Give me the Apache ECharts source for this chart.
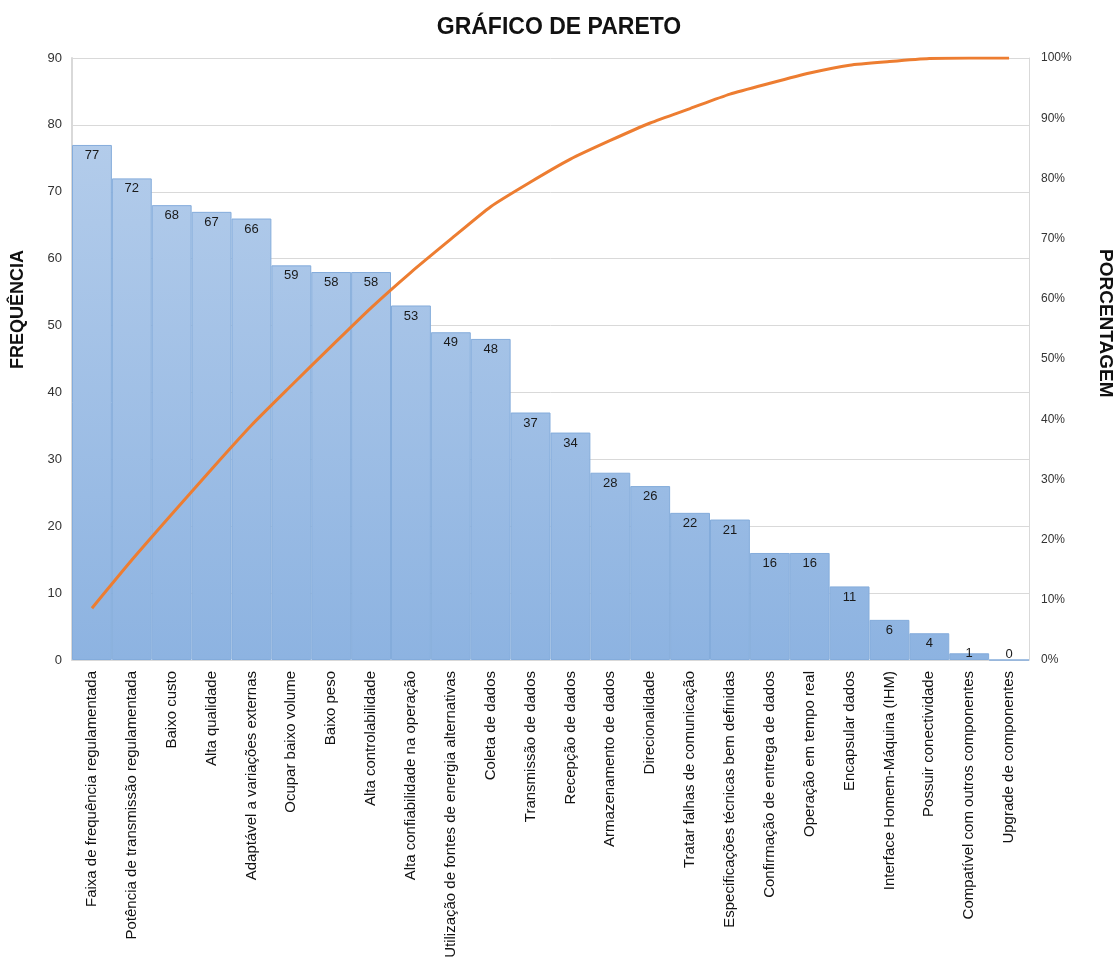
<!DOCTYPE html>
<html>
<head>
<meta charset="utf-8">
<script src="https://cdn.jsdelivr.net/npm/echarts@6/dist/echarts.min.js"></script>
<style>
  html, body { margin: 0; padding: 0; background: #fff; }
  #chart { width: 1118px; height: 980px; }
</style>
</head>
<body>
<div id="chart"></div>
<script>
// Requisitos e número de ocorrências (ordenados de forma decrescente)
const categorias = [
  'Faixa de frequência regulamentada',
  'Potência de transmissão regulamentada',
  'Baixo custo',
  'Alta qualidade',
  'Adaptável a variações externas',
  'Ocupar baixo volume',
  'Baixo peso',
  'Alta controlabilidade',
  'Alta confiabilidade na operação',
  'Utilização de fontes de energia alternativas',
  'Coleta de dados',
  'Transmissão de dados',
  'Recepção de dados',
  'Armazenamento de dados',
  'Direcionalidade',
  'Tratar falhas de comunicação',
  'Especificações técnicas bem definidas',
  'Confirmação de entrega de dados',
  'Operação em tempo real',
  'Encapsular dados',
  'Interface Homem-Máquina (IHM)',
  'Possuir conectividade',
  'Compatível com outros componentes',
  'Upgrade de componentes'
];

const frequencia = [77, 72, 68, 67, 66, 59, 58, 58, 53, 49, 48, 37, 34, 28, 26, 22, 21, 16, 16, 11, 6, 4, 1, 0];

// Porcentagem acumulada (%)
const acumulado = [8.6, 16.6, 24.2, 31.7, 39.0, 45.6, 52.1, 58.5, 64.4, 69.9, 75.3, 79.4, 83.2, 86.3, 89.2, 91.6, 94.0, 95.8, 97.5, 98.8, 99.4, 99.9, 100, 100];

const ticksFreq = { min: 0, max: 90, interval: 10 };
const ticksPct = { min: 0, max: 100, interval: 10 };

const chart = echarts.init(document.getElementById('chart'), null, { renderer: 'canvas' });

const gridLeft = 72, gridTop = 58, gridRight = 89, gridBottom = 320;

// Barras muito baixas recebem o rótulo apoiado no eixo em vez de dentro do topo
const barras = frequencia.map(v => (
  v < 2
    ? { value: v, label: { position: 'insideBottom', distance: 0 } }
    : v
));

chart.setOption({
  animation: false,
  backgroundColor: '#ffffff',
  title: {
    text: 'GRÁFICO DE PARETO',
    left: 'center',
    top: 11,
    textStyle: { fontFamily: 'Liberation Sans', fontWeight: 'bold', fontSize: 23, color: '#111' }
  },
  graphic: [
    {
      type: 'text', left: 9, top: 250, rotation: Math.PI / 2,
      style: { text: 'FREQUÊNCIA', font: 'bold 18px "Liberation Sans"', fill: '#111' }
    },
    {
      type: 'text', left: 1096, top: 249, rotation: -Math.PI / 2,
      style: { text: 'PORCENTAGEM', font: 'bold 19px "Liberation Sans"', fill: '#111' }
    }
  ],
  grid: { left: gridLeft, right: gridRight, top: gridTop, bottom: gridBottom, containLabel: false },
  xAxis: {
    type: 'category',
    data: categorias,
    axisLine: { show: true, lineStyle: { color: '#d9d9d9', width: 1 } },
    axisTick: { show: false },
    axisLabel: {
      interval: 0,
      rotate: 90,
      margin: 11,
      fontFamily: 'Liberation Sans',
      fontSize: 15,
      color: '#111'
    }
  },
  yAxis: [
    {
      type: 'value',
      min: ticksFreq.min, max: ticksFreq.max, interval: ticksFreq.interval,
      axisLine: { show: true, lineStyle: { color: '#d9d9d9', width: 2 } },
      axisTick: { show: false },
      splitLine: { lineStyle: { color: '#d9d9d9', width: 1 } },
      axisLabel: { margin: 10, fontFamily: 'Liberation Sans', fontSize: 13, color: '#333' }
    },
    {
      type: 'value',
      min: ticksPct.min, max: ticksPct.max, interval: ticksPct.interval,
      axisLine: { show: true, lineStyle: { color: '#d9d9d9' } },
      axisTick: { show: false },
      splitLine: { show: false },
      axisLabel: { margin: 12, formatter: '{value}%', fontFamily: 'Liberation Sans', fontSize: 12, color: '#333' }
    }
  ],
  series: [
    {
      name: 'Frequência',
      type: 'bar',
      data: barras,
      barCategoryGap: '0%',
      yAxisIndex: 0,
      itemStyle: {
        color: {
          type: 'linear', x: 0, y: gridTop, x2: 0, y2: 980 - gridBottom, global: true,
          colorStops: [
            { offset: 0, color: '#b9d0ec' },
            { offset: 1, color: '#8db3e1' }
          ]
        },
        borderColor: '#84acdb',
        borderWidth: 1
      },
      label: {
        show: true,
        position: 'insideTop',
        distance: 4,
        fontFamily: 'Liberation Sans',
        fontSize: 13,
        color: '#1a1a1a'
      }
    },
    {
      name: 'Porcentagem acumulada',
      type: 'line',
      data: acumulado,
      yAxisIndex: 1,
      smooth: 0.2,
      symbol: 'none',
      lineStyle: { color: '#ed7d31', width: 3 },
      z: 5
    }
  ]
});
</script>
</body>
</html>
